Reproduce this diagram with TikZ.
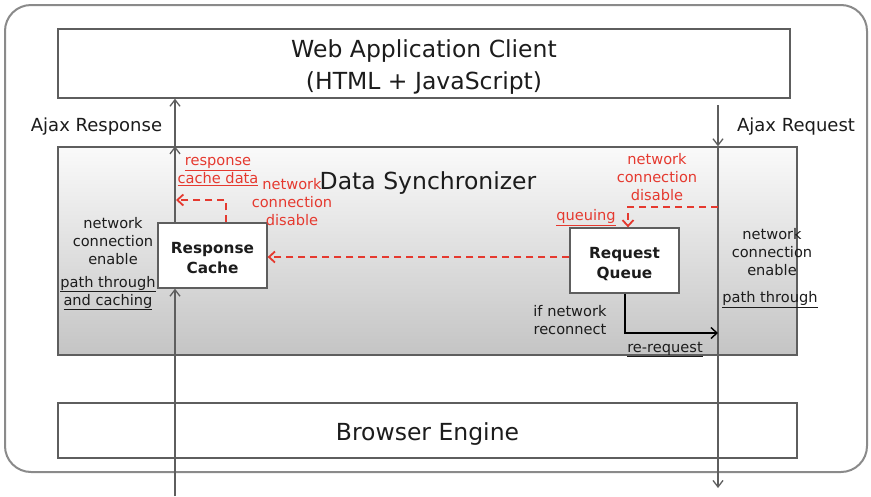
\documentclass[tikz,border=0pt]{standalone}
\usepackage{fontspec}
\setmainfont{DejaVu Sans}
\usetikzlibrary{arrows.meta}
\definecolor{edge}{HTML}{5E5E5E}
\definecolor{frame}{HTML}{8A8A8A}
\definecolor{ink}{HTML}{1C1C1C}
\definecolor{alert}{HTML}{E5392F}
\tikzset{
  big/.style={font=\fontsize{23.5}{32}\selectfont, text=ink, align=center},
  small/.style={font=\fontsize{14.6}{18}\selectfont, text=ink, align=center, inner sep=0pt},
  redtext/.style={small, text=alert},
  layer/.style={draw=edge, line width=1.4pt, rectangle, inner sep=0pt},
  unit/.style={draw=edge, line width=1.3pt, fill=white, rectangle, inner sep=0pt,
    minimum width=109pt, minimum height=65pt},
  unitlabel/.style={font=\bfseries\fontsize{15.3}{20}\selectfont, text=ink, align=center, inner sep=0pt},
  flow/.style={draw=edge, line width=1.6pt, -{Straight Barb[length=6.5pt,width=10pt,line width=1.3pt]}},
  redflow/.style={draw=alert, line width=2pt, dash pattern=on 7pt off 5pt,
    -{Straight Barb[length=6pt,width=11pt,line width=1.8pt]}},
  backflow/.style={draw=black, line width=1.6pt, -{Straight Barb[length=6pt,width=11pt,line width=1.4pt]}}
}
\begin{document}
\begin{tikzpicture}[x=1pt,y=-1pt]
\useasboundingbox (0,0) rectangle (871,496);
\fill[white] (0,0) rectangle (871,496);
% outer frame
\draw[frame, line width=2pt, rounded corners=26pt] (5,5) rectangle (867,472);

% layers
\node[layer, minimum width=732pt, minimum height=69pt] (client) at (424,63.5) {};
\node[big] (clienttext) at (424,67.5) {Web Application Client\\(HTML + JavaScript)};
\node[layer, minimum width=739pt, minimum height=208pt, top color=white!98!black,
  bottom color=black!23] (sync) at (427.5,251) {};
\node[big] (synctitle) at (428,183) {Data Synchronizer};
\node[layer, minimum width=739pt, minimum height=55pt] (engine) at (427.5,430.5) {};
\node[big] (enginetext) at (427.5,434.5) {Browser Engine};

% components
\node[unit] (cache) at (212.5,255.5) {};
\node[unitlabel] (cachetext) at ([yshift=-2.5pt]cache.center) {Response\\Cache};
\node[unit] (queue) at (624.5,260.5) {};
\node[unitlabel] (queuetext) at ([yshift=-3.5pt]queue.center) {Request\\Queue};

% free ends of the vertical paths
\coordinate (lin) at (175,496);
\coordinate (rin) at (718,105);
\coordinate (rout) at (718,488);
\coordinate (cachetap) at (176,200);
\coordinate (reqtap) at (718,207);
\coordinate (reqback) at (718,333);

% response path (left)
\draw[flow] (lin) -- (lin |- cache.south);
\draw[flow] (lin |- cache.north) -- (lin |- sync.north);
\draw[flow] (lin |- sync.north) -- (lin |- client.south);

% request path (right)
\draw[flow] (rin) -- (rin |- sync.north);
\draw[flow] (rin |- sync.north) -- (rout);

% offline behaviour
\draw[redflow] ([yshift=3.5pt]queue.west) -- ([yshift=-1.5pt]cache.east);
\draw[redflow] ([xshift=13.5pt]cache.north) |- (cachetap);
\draw[redflow] (reqtap) -| ([xshift=3.5pt]queue.north);
\draw[backflow] ([xshift=0.5pt]queue.south) |- (reqback);

% labels
\node[font=\fontsize{18}{22}\selectfont, text=ink] (lresp) at (96.5,126.5) {Ajax Response};
\node[font=\fontsize{18}{22}\selectfont, text=ink] (lreq) at (796,126.5) {Ajax Request};

\node[redtext] (rcdata) at (218,171.5) {\underline{response}\\\underline{cache data}};
\node[redtext] (offleft) at (292,202) {network\\connection\\disable};
\node[small] (onleft) at (113,241) {network\\connection\\enable};
\node[small] (ptleft) at (108,293) {\underline{path through}\\\underline{and caching}};

\node[redtext] (offright) at (657,177) {network\\connection\\disable};
\node[redtext] (queuing) at (586,217.5) {\underline{queuing}};
\node[small] (onright) at (772,252) {network\\connection\\enable};
\node[small] (ptright) at (770,299.5) {\underline{path through}};
\node[small] (reconn) at (570,320) {if network\\reconnect};
\node[small] (rereq) at (665,349.5) {\underline{re-request}};
\end{tikzpicture}
\end{document}
